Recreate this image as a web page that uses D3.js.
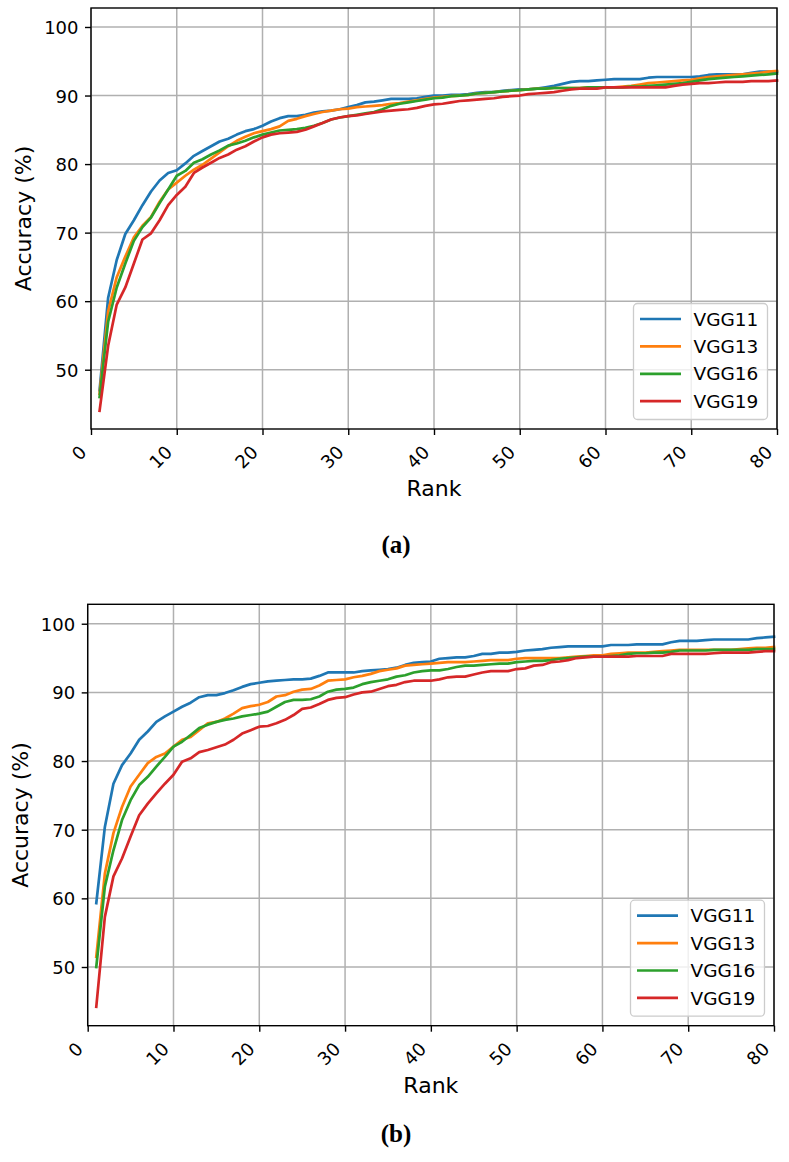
<!DOCTYPE html>
<html>
<head>
<meta charset="utf-8">
<script src="https://cdn.jsdelivr.net/npm/d3@7"></script>
<style>
  html, body { margin: 0; padding: 0; background: #fff; }
  svg { display: block; }
</style>
</head>
<body>
<svg id="chart" width="789" height="1162"></svg>
<script>
// ---------------- DATA ----------------
const ranks = d3.range(1, 81);
const seriesNames = ["VGG11", "VGG13", "VGG16", "VGG19"];
const xTickValues = [0, 10, 20, 30, 40, 50, 60, 70, 80];
const yTickValues = [50, 60, 70, 80, 90, 100];
const xLabel = "Rank";
const yLabel = "Accuracy (%)";
const captions = ["(a)", "(b)"];

// Panel (a)
const a_vgg11 = [47.0,60.5,66.0,69.8,71.8,74.0,76.0,77.6,78.7,79.1,80.1,81.2,81.9,82.6,83.3,83.7,84.3,84.8,85.1,85.6,
  86.2,86.7,87.0,87.0,87.2,87.5,87.7,87.8,88.0,88.3,88.6,89.0,89.1,89.3,89.5,89.5,89.5,89.6,89.8,90.0,
  90.0,90.1,90.1,90.2,90.4,90.5,90.5,90.7,90.8,90.9,90.9,91.0,91.2,91.4,91.7,92.0,92.1,92.1,92.2,92.3,
  92.4,92.4,92.4,92.4,92.6,92.7,92.7,92.7,92.7,92.7,92.8,93.0,93.1,93.1,93.1,93.1,93.3,93.5,93.5,93.5];
const a_vgg13 = [46.5,58.5,63.5,66.5,69.3,71.0,72.3,74.5,76.3,77.3,78.3,79.2,79.9,80.8,81.7,82.6,83.4,84.0,84.5,84.8,
  85.1,85.5,86.3,86.6,87.0,87.3,87.6,87.8,88.0,88.1,88.3,88.4,88.5,88.6,88.8,88.9,89.1,89.3,89.5,89.7,
  89.8,89.9,90.0,90.1,90.3,90.4,90.5,90.6,90.7,90.8,90.9,91.0,91.0,91.1,91.1,91.1,91.1,91.2,91.2,91.2,
  91.2,91.3,91.4,91.6,91.8,91.9,92.0,92.1,92.2,92.3,92.5,92.7,92.8,92.9,93.0,93.1,93.2,93.3,93.5,93.6];
const a_vgg16 = [46.0,57.0,62.0,65.5,68.8,70.8,72.2,74.3,76.3,78.3,79.0,80.2,80.7,81.4,82.0,82.7,83.0,83.4,83.9,84.3,
  84.6,84.9,85.0,85.1,85.3,85.6,86.0,86.5,86.8,87.0,87.2,87.4,87.6,88.0,88.5,88.8,89.0,89.2,89.4,89.6,
  89.7,89.9,90.0,90.1,90.3,90.4,90.5,90.6,90.7,90.8,90.9,91.0,91.0,91.1,91.1,91.1,91.1,91.2,91.2,91.2,
  91.2,91.2,91.3,91.3,91.4,91.5,91.6,91.7,91.8,92.0,92.2,92.4,92.5,92.6,92.7,92.8,92.9,93.0,93.1,93.2];
const a_vgg19 = [44.0,53.5,59.5,62.0,65.5,69.0,69.9,71.8,74.0,75.5,76.7,78.7,79.5,80.2,80.9,81.4,82.1,82.6,83.3,83.9,
  84.3,84.5,84.6,84.7,85.0,85.5,86.0,86.5,86.8,87.0,87.1,87.3,87.5,87.7,87.8,87.9,88.0,88.2,88.5,88.7,
  88.8,89.0,89.2,89.3,89.4,89.5,89.6,89.8,89.9,90.0,90.2,90.3,90.4,90.5,90.7,90.9,91.0,91.0,91.0,91.2,
  91.2,91.2,91.2,91.2,91.2,91.2,91.2,91.4,91.6,91.7,91.8,91.8,91.9,92.0,92.0,92.0,92.1,92.1,92.1,92.2];

// Panel (b)
const b_vgg11 = [59.3,70.4,76.7,79.4,81.1,83.1,84.3,85.7,86.5,87.2,87.9,88.5,89.3,89.6,89.6,89.9,90.3,90.8,91.2,91.4,
  91.6,91.7,91.8,91.9,91.9,92.0,92.4,92.9,92.9,92.9,92.9,93.1,93.2,93.3,93.4,93.6,94.0,94.3,94.4,94.5,
  94.9,95.0,95.1,95.1,95.3,95.6,95.6,95.8,95.8,95.9,96.1,96.2,96.3,96.5,96.6,96.7,96.7,96.7,96.7,96.7,
  96.9,96.9,96.9,97.0,97.0,97.0,97.0,97.3,97.5,97.5,97.5,97.6,97.7,97.7,97.7,97.7,97.7,97.9,98.0,98.1];
const b_vgg13 = [51.5,63.6,69.5,73.3,76.3,78.0,79.7,80.6,81.1,82.1,83.1,83.5,84.5,85.5,85.7,86.2,86.9,87.7,88.0,88.2,
  88.6,89.4,89.6,90.1,90.4,90.5,91.0,91.7,91.8,91.9,92.2,92.4,92.7,93.1,93.3,93.5,93.9,94.0,94.1,94.2,
  94.3,94.4,94.4,94.4,94.5,94.6,94.7,94.7,94.7,94.9,95.0,95.0,95.0,95.0,95.0,95.1,95.2,95.3,95.4,95.4,
  95.6,95.7,95.8,95.8,95.8,95.9,96.0,96.1,96.2,96.2,96.2,96.2,96.2,96.2,96.2,96.3,96.4,96.5,96.5,96.6];
const b_vgg16 = [50.0,61.7,67.0,71.4,74.3,76.5,77.7,79.2,80.6,82.1,82.8,83.8,84.8,85.3,85.7,86.0,86.2,86.5,86.7,86.9,
  87.2,87.9,88.6,88.9,88.9,89.0,89.4,90.1,90.4,90.5,90.7,91.2,91.5,91.7,91.9,92.3,92.5,92.9,93.1,93.2,
  93.2,93.4,93.7,93.9,93.9,94.0,94.1,94.2,94.2,94.4,94.5,94.6,94.6,94.7,94.9,95.0,95.1,95.2,95.2,95.2,
  95.3,95.4,95.6,95.7,95.7,95.8,95.8,95.9,96.1,96.1,96.1,96.1,96.2,96.2,96.2,96.2,96.2,96.3,96.3,96.3];
const b_vgg19 = [44.2,57.3,63.2,65.8,69.0,72.1,73.8,75.3,76.7,78.0,79.9,80.4,81.3,81.6,82.0,82.4,83.1,84.0,84.5,85.0,
  85.1,85.5,86.0,86.7,87.6,87.8,88.3,88.9,89.2,89.3,89.7,90.0,90.1,90.5,90.9,91.1,91.5,91.7,91.7,91.7,
  91.9,92.2,92.3,92.3,92.6,92.9,93.1,93.1,93.1,93.4,93.5,93.9,94.0,94.4,94.5,94.7,95.0,95.1,95.2,95.2,
  95.2,95.2,95.2,95.3,95.3,95.3,95.3,95.6,95.6,95.6,95.6,95.6,95.7,95.8,95.8,95.8,95.8,95.9,96.0,96.0];

const colors = ["#1f77b4", "#ff7f0e", "#2ca02c", "#d62728"];

// ---------------- DRAW ----------------
const svg = d3.select("#chart");

const panels = [
  { left: 91, right: 777, top: 8, bottom: 429, yMin: 41.35, yMax: 102.77,
    data: [a_vgg11, a_vgg13, a_vgg16, a_vgg19], caption: captions[0], capY: 553 },
  { left: 87.7, right: 774, top: 604.3, bottom: 1025.7, yMin: 41.45, yMax: 102.83,
    data: [b_vgg11, b_vgg13, b_vgg16, b_vgg19], caption: captions[1], capY: 1142 }
];

panels.forEach(p => {
  const g = svg.append("g");
  const x = d3.scaleLinear().domain([0, 80]).range([p.left, p.right]);
  const y = d3.scaleLinear().domain([p.yMin, p.yMax]).range([p.bottom, p.top]);

  // grid
  g.append("g").selectAll("line.vx").data(xTickValues).join("line")
    .attr("x1", d => x(d)).attr("x2", d => x(d))
    .attr("y1", p.top).attr("y2", p.bottom)
    .attr("stroke", "#b0b0b0").attr("stroke-width", 1.5);
  g.append("g").selectAll("line.hy").data(yTickValues).join("line")
    .attr("x1", p.left).attr("x2", p.right)
    .attr("y1", d => y(d)).attr("y2", d => y(d))
    .attr("stroke", "#b0b0b0").attr("stroke-width", 1.5);

  // lines
  const line = d3.line().x((d, i) => x(ranks[i])).y(d => y(d));
  p.data.forEach((s, k) => {
    g.append("path").datum(s)
      .attr("d", line)
      .attr("fill", "none")
      .attr("stroke", colors[k])
      .attr("stroke-width", 2.7)
      .attr("stroke-linejoin", "round")
      .attr("stroke-linecap", "square");
  });

  // spines
  g.append("rect")
    .attr("x", p.left).attr("y", p.top)
    .attr("width", p.right - p.left).attr("height", p.bottom - p.top)
    .attr("fill", "none").attr("stroke", "#000").attr("stroke-width", 1.4);

  // axes
  const xAxis = g.append("g")
    .attr("transform", `translate(0,${p.bottom})`)
    .call(d3.axisBottom(x).tickValues(xTickValues).tickSize(6).tickFormat(d3.format("d")));
  xAxis.select(".domain").remove();
  xAxis.selectAll(".tick line").attr("stroke", "#000").attr("stroke-width", 1.4);
  xAxis.selectAll(".tick text")
    .attr("x", 0).attr("y", 0).attr("dy", null)
    .attr("transform", "translate(-4,24.5) rotate(-45)")
    .attr("text-anchor", "end")
    .attr("fill", "#000")
    .style("font-family", "'DejaVu Sans', sans-serif")
    .style("font-size", "18px");

  const yAxis = g.append("g")
    .attr("transform", `translate(${p.left},0)`)
    .call(d3.axisLeft(y).tickValues(yTickValues).tickSize(6).tickPadding(6.5).tickFormat(d3.format("d")));
  yAxis.select(".domain").remove();
  yAxis.selectAll(".tick line").attr("stroke", "#000").attr("stroke-width", 1.4);
  yAxis.selectAll(".tick text")
    .attr("fill", "#000")
    .attr("dy", "0.36em")
    .style("font-family", "'DejaVu Sans', sans-serif")
    .style("font-size", "18px");

  // axis labels
  g.append("text")
    .attr("x", (p.left + p.right) / 2).attr("y", p.bottom + 67)
    .attr("text-anchor", "middle")
    .style("font-family", "'DejaVu Sans', sans-serif").style("font-size", "22px")
    .text(xLabel);
  g.append("text")
    .attr("transform", `translate(${p.left - 60},${(p.top + p.bottom) / 2}) rotate(-90)`)
    .attr("text-anchor", "middle")
    .style("font-family", "'DejaVu Sans', sans-serif").style("font-size", "22px")
    .text(yLabel);

  // legend
  const lw = 134, lh = 116;
  const lx = p.right - 9.5 - lw, ly = p.bottom - 9.5 - lh;
  const leg = g.append("g");
  leg.append("rect")
    .attr("x", lx).attr("y", ly).attr("width", lw).attr("height", lh)
    .attr("rx", 4).attr("ry", 4)
    .attr("fill", "#fff").attr("fill-opacity", 0.8)
    .attr("stroke", "#cccccc").attr("stroke-width", 1.3);
  seriesNames.forEach((name, k) => {
    const ey = ly + 15.5 + k * 27.4;
    leg.append("line")
      .attr("x1", lx + 6.5).attr("x2", lx + 47.5)
      .attr("y1", ey).attr("y2", ey)
      .attr("stroke", colors[k]).attr("stroke-width", 2.7);
    leg.append("text")
      .attr("x", lx + 60).attr("y", ey).attr("dy", "0.36em")
      .style("font-family", "'DejaVu Sans', sans-serif").style("font-size", "18.5px")
      .text(name);
  });

  // caption
  g.append("text")
    .attr("x", 396).attr("y", p.capY)
    .attr("text-anchor", "middle")
    .style("font-family", "'Liberation Serif', serif")
    .style("font-weight", "bold")
    .style("font-size", "25px")
    .text(p.caption);
});
</script>
</body>
</html>
